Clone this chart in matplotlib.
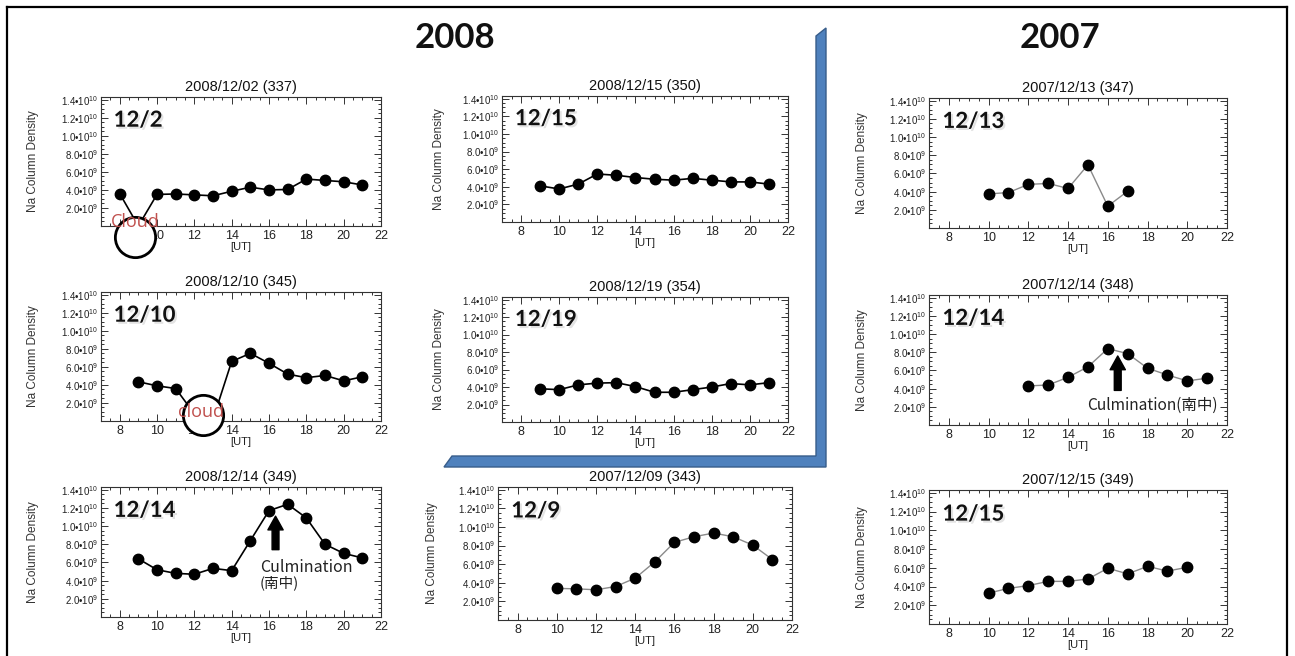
import numpy as np
import matplotlib.pyplot as plt
import matplotlib.patheffects as pe
from matplotlib.patches import Polygon, FancyArrowPatch
from matplotlib.lines import Line2D
from matplotlib.ticker import MultipleLocator, FixedLocator

plt.rcParams['font.family'] = ['Liberation Sans', 'DejaVu Sans']
plt.rcParams['mathtext.fontset'] = 'custom'
plt.rcParams['mathtext.rm'] = 'Liberation Sans'
plt.rcParams['mathtext.it'] = 'Liberation Sans'

# --- data (UT hour, Na column density in units of 1e9) ---
ut_081202 = [8, 9, 10, 11, 12, 13, 14, 15, 16, 17, 18, 19, 20, 21]
na_081202 = [3.6, 0.0, 3.5, 3.55, 3.45, 3.35, 3.85, 4.3, 4.0, 4.05, 5.2, 5.05, 4.9, 4.55]

ut_081210 = [9, 10, 11, 12, 13, 14, 15, 16, 17, 18, 19, 20, 21]
na_081210 = [4.35, 3.9, 3.6, 0.8, 0.2, 6.6, 7.5, 6.4, 5.2, 4.8, 5.05, 4.45, 4.9]

ut_081214 = [9, 10, 11, 12, 13, 14, 15, 16, 17, 18, 19, 20, 21]
na_081214 = [6.4, 5.2, 4.8, 4.7, 5.35, 5.1, 8.4, 11.7, 12.4, 10.9, 8.0, 7.0, 6.5]

ut_081215 = [9, 10, 11, 12, 13, 14, 15, 16, 17, 18, 19, 20, 21]
na_081215 = [4.1, 3.75, 4.3, 5.45, 5.3, 5.05, 4.85, 4.75, 4.95, 4.75, 4.55, 4.55, 4.3]

ut_081219 = [9, 10, 11, 12, 13, 14, 15, 16, 17, 18, 19, 20, 21]
na_081219 = [3.8, 3.7, 4.25, 4.45, 4.5, 4.05, 3.4, 3.4, 3.7, 4.0, 4.4, 4.25, 4.5]

ut_071209 = [10, 11, 12, 13, 14, 15, 16, 17, 18, 19, 20, 21]
na_071209 = [3.4, 3.35, 3.25, 3.6, 4.5, 6.25, 8.35, 8.95, 9.35, 8.95, 8.05, 6.5]

ut_071213 = [10, 11, 12, 13, 14, 15, 16, 17]
na_071213 = [3.75, 3.9, 4.8, 4.9, 4.35, 6.95, 2.4, 4.05]

ut_071214 = [12, 13, 14, 15, 16, 17, 18, 19, 20, 21]
na_071214 = [4.3, 4.4, 5.25, 6.4, 8.4, 7.85, 6.25, 5.5, 4.85, 5.15]

ut_071215 = [10, 11, 12, 13, 14, 15, 16, 17, 18, 19, 20]
na_071215 = [3.3, 3.8, 4.1, 4.55, 4.55, 4.8, 5.95, 5.35, 6.15, 5.65, 6.05]

ytick_vals = [2, 4, 6, 8, 10, 12, 14]
ytick_labels = ['2.0•10$^{9}$', '4.0•10$^{9}$', '6.0•10$^{9}$', '8.0•10$^{9}$',
                '1.0•10$^{10}$', '1.2•10$^{10}$', '1.4•10$^{10}$']

W, H = 1295, 656
fig = plt.figure(figsize=(W / 100, H / 100), dpi=100)
fig.patch.set_facecolor('white')


def box(x0, y0, x1, y1):
    return [x0 / W, 1 - y1 / H, (x1 - x0) / W, (y1 - y0) / H]


def panel(rect, ut, na, title, tag, line_color, lw, ylab_x):
    ax = fig.add_axes(box(*rect))
    ax.plot(ut, na, color=line_color, lw=lw, marker='o', ms=7.5,
            mfc='black', mec='black', zorder=3)
    ax.set_xlim(7, 22)
    ax.set_ylim(0, 14.3)
    ax.xaxis.set_major_locator(MultipleLocator(2))
    ax.xaxis.set_minor_locator(MultipleLocator(0.5))
    ax.yaxis.set_major_locator(FixedLocator(ytick_vals))
    ax.yaxis.set_minor_locator(MultipleLocator(0.5))
    ax.set_yticklabels(ytick_labels)
    ax.tick_params(which='both', direction='in', top=True, right=True,
                   color='#333333', width=0.7)
    ax.tick_params(which='major', length=5)
    ax.tick_params(which='minor', length=2.5)
    ax.tick_params(axis='y', labelsize=7, pad=2, labelcolor='#222222')
    ax.tick_params(axis='x', labelsize=9, pad=3, labelcolor='#222222')
    for s in ax.spines.values():
        s.set_linewidth(0.8)
        s.set_color('#333333')
    ax.set_title(title, fontsize=10.5, pad=4, color='#111111')
    ax.set_xlabel('[UT]', fontsize=8, labelpad=0, color='#222222')
    ax.set_ylabel('Na Column Density', fontsize=8.5, color='#333333')
    ax.yaxis.set_label_coords(ylab_x, 0.5)
    ax.text(0.045, 0.82, tag, transform=ax.transAxes, fontsize=16,
            fontweight='bold', family='Lato', va='center', ha='left',
            color='#111111',
            path_effects=[pe.withSimplePatchShadow(offset=(1.5, -1.5),
                                                   shadow_rgbFace='gray',
                                                   alpha=0.22)])
    return ax


black = 'black'
grey = '#8a8a8a'

ax1 = panel((101, 97, 381, 226), ut_081202, na_081202, '2008/12/02 (337)', '12/2', black, 1.2, -0.22)
ax2 = panel((101, 292, 381, 421), ut_081210, na_081210, '2008/12/10 (345)', '12/10', black, 1.2, -0.22)
ax3 = panel((101, 487, 381, 617), ut_081214, na_081214, '2008/12/14 (349)', '12/14', black, 1.2, -0.22)
ax4 = panel((502, 96, 788, 222), ut_081215, na_081215, '2008/12/15 (350)', '12/15', black, 1.2, -0.2)
ax5 = panel((502, 297, 788, 422), ut_081219, na_081219, '2008/12/19 (354)', '12/19', black, 1.2, -0.2)
ax6 = panel((498, 487, 792, 620), ut_071209, na_071209, '2007/12/09 (343)', '12/9', grey, 1.0, -0.205)
ax7 = panel((929, 98, 1227, 228), ut_071213, na_071213, '2007/12/13 (347)', '12/13', grey, 1.0, -0.205)
ax8 = panel((929, 295, 1227, 425), ut_071214, na_071214, '2007/12/14 (348)', '12/14', grey, 1.0, -0.205)
ax9 = panel((929, 490, 1227, 624), ut_071215, na_071215, '2007/12/15 (349)', '12/15', grey, 1.0, -0.205)

# cloud markers
cloud_red = '#c0504d'
for ax, (cx, cy), (tx, ty), word in [(ax1, (8.8, -1.2), (8.85, 0.45), 'Cloud'),
                                      (ax2, (12.45, 0.7), (12.35, 1.0), 'cloud')]:
    ax.plot(cx, cy, marker='o', ms=29, mfc='white', mec='black', mew=2,
            clip_on=False, zorder=5)
    ax.text(tx, ty, word, color=cloud_red, fontsize=13, family='Open Sans',
            ha='center', va='center', zorder=6, clip_on=False)

# culmination arrows
arrow_style = 'simple,head_length=0.9,head_width=1.0,tail_width=0.45'
for ax, x, y0, y1 in [(ax3, 16.35, 7.1, 11.4), (ax8, 16.5, 3.5, 7.9)]:
    ax.add_patch(FancyArrowPatch((x, y0), (x, y1), arrowstyle=arrow_style,
                                 mutation_scale=11, color='black', zorder=4))
cjk = ['Noto Sans CJK JP', 'DejaVu Sans']
ax3.text(15.5, 5.5, 'Culmination', fontsize=11.5, family=cjk,
         color='#222222', va='center', ha='left')
ax3.text(15.5, 3.8, '(南中)', fontsize=10.5, family=cjk,
         color='#222222', va='center', ha='left')
ax8.text(14.95, 2.2, 'Culmination(南中)', fontsize=11.2, family=cjk,
         color='#222222', va='center', ha='left')

# year headers
fig.text(455 / W, 1 - 38 / H, '2008', fontsize=25, fontweight='bold', family='Lato',
         ha='center', va='center', color='#111111')
fig.text(1060 / W, 1 - 38 / H, '2007', fontsize=25, fontweight='bold', family='Lato',
         ha='center', va='center', color='#111111')

# blue L-shaped divider
pts = [(452, 456), (816, 456), (816, 36), (826, 28), (826, 467), (444, 467)]
fig.add_artist(Polygon([(x / W, 1 - y / H) for x, y in pts], closed=True,
                       transform=fig.transFigure, facecolor='#4f81bd',
                       edgecolor='#385d8a', lw=1))

# outer frame
for xs, ys in [((7, 1287), (7, 7)), ((7, 7), (7, 656)), ((1287, 1287), (7, 656))]:
    fig.add_artist(Line2D([x / W for x in xs], [1 - y / H for y in ys],
                          transform=fig.transFigure, color='black', lw=1.6))

fig.savefig('out.png', dpi=100, facecolor='white')
